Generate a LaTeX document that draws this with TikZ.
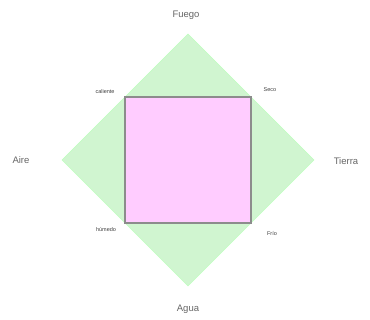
\documentclass[tikz,border=0pt]{standalone}
\usepackage{fontspec}
\setmainfont{Liberation Sans}
\definecolor{pinkq}{RGB}{255,204,255}
\definecolor{greend}{RGB}{208,245,208}
\begin{document}
\begin{tikzpicture}[x=1pt,y=-1pt,
  elem/.style={font=\fontsize{9.5}{11}\selectfont,text=black!60},
  qual/.style={font=\fontsize{5.5}{6}\selectfont,text=black!75,inner sep=0.5pt}]
\useasboundingbox (0,0) rectangle (370,320);
\fill[greend,draw=green!25!white] (188,34) coordinate (T) -- (314,160) coordinate (R) -- (188,286) coordinate (B) -- (62,160) coordinate (L) -- cycle;
\draw[fill=pinkq,draw=black!45,line width=1.6pt] (125,97) coordinate (q1) rectangle (251,223) coordinate (q2);
\node[elem] (fuego) at (186,15) {Fuego};
\node[elem] (agua) at (188,309) {Agua};
\node[elem] (aire) at (21,160) {Aire};
\node[elem] (tierra) at (346,161) {Tierra};
\node[qual] (cal) at (105,92) {caliente};
\node[qual] (seco) at (270,90) {Seco};
\node[qual] (hum) at (106,230) {húmedo};
\node[qual] (frio) at (272,234) {Frío};
\end{tikzpicture}
\end{document}
